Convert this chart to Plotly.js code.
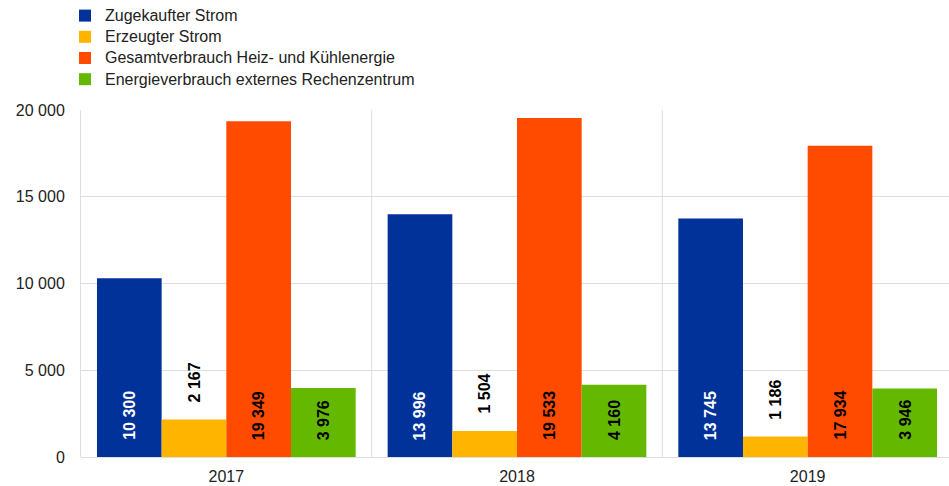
<!DOCTYPE html>
<html>
<head>
<meta charset="utf-8">
<script src="https://cdn.plot.ly/plotly-3.0.1.min.js"></script>
<style>
html,body{margin:0;padding:0;overflow:hidden;background:#fff;}
#chart{width:955px;height:486px;}
</style>
</head>
<body>
<div id="chart"></div>
<script>
const years = ['2017', '2018', '2019'];
const seriesNames = ['Zugekaufter Strom', 'Erzeugter Strom', 'Gesamtverbrauch Heiz- und Kühlenergie', 'Energieverbrauch externes Rechenzentrum'];
const zugekaufterStrom = [10300, 13996, 13745];
const erzeugterStrom = [2167, 1504, 1186];
const heizKuehlenergie = [19349, 19533, 17934];
const externesRechenzentrum = [3976, 4160, 3946];
const yTicks = [0, 5000, 10000, 15000, 20000];

const seriesValues = [zugekaufterStrom, erzeugterStrom, heizKuehlenergie, externesRechenzentrum];
const colors = ['#003299', '#ffb400', '#ff4b00', '#65b800'];
const labelColors = ['#ffffff', '#000000', '#000000', '#000000'];
const labelOutside = [false, true, false, false];
const fontFam = 'Liberation Sans, Arial, sans-serif';
const bargap = 0.11;

function fmt(v) {
  return String(v).replace(/\B(?=(\d{3})+(?!\d))/g, ' ');
}

const traces = seriesValues.map((vals, i) => ({
  type: 'bar',
  name: '<span style="font-size:16px">' + seriesNames[i] + '</span>',
  x: years,
  y: vals,
  marker: {color: colors[i], line: {width: 0}},
  hoverinfo: 'skip'
}));

const barW = (1 - bargap) / seriesValues.length;
const annotations = [];
seriesValues.forEach((vals, i) => {
  vals.forEach((v, j) => {
    annotations.push({
      xref: 'x', yref: 'y',
      x: j + (i - (seriesValues.length - 1) / 2) * barW,
      y: labelOutside[i] ? v : 0,
      yanchor: 'bottom', xanchor: 'center',
      yshift: 15,
      text: '<b>' + fmt(v) + '</b>',
      textangle: -90,
      showarrow: false,
      font: {family: fontFam, size: 16, color: labelColors[i]}
    });
  });
});

const shapes = [0.5, 1.5].map(xv => ({
  type: 'line', xref: 'x', yref: 'paper',
  x0: xv, x1: xv, y0: 0, y1: 1,
  line: {color: '#dedede', width: 1}
}));

const layout = {
  width: 955, height: 486,
  margin: {l: 81, r: 2, t: 110, b: 29, autoexpand: false},
  paper_bgcolor: '#ffffff', plot_bgcolor: '#ffffff',
  separators: '. ',
  barmode: 'group',
  bargap: bargap,
  bargroupgap: 0,
  font: {family: fontFam, size: 16, color: '#222'},
  showlegend: true,
  legend: {
    orientation: 'v',
    xref: 'container', yref: 'container',
    x: 65 / 955, y: 1, xanchor: 'left', yanchor: 'top',
    font: {family: fontFam, size: 14, color: '#222'},
    bgcolor: 'rgba(0,0,0,0)',
    traceorder: 'normal'
  },
  xaxis: {
    type: 'category',
    range: [-0.5, 2.5],
    showgrid: false,
    showline: false,
    ticks: '',
    ticklabelstandoff: 8,
    tickfont: {family: fontFam, size: 16, color: '#222'},
    fixedrange: true
  },
  yaxis: {
    range: [0, 20000],
    tickvals: yTicks,
    tickformat: ',',
    showgrid: true,
    gridcolor: '#dedede',
    gridwidth: 1,
    zeroline: true,
    zerolinecolor: '#dedede',
    zerolinewidth: 1,
    showline: true,
    linecolor: '#dedede',
    linewidth: 1,
    ticks: '',
    ticklabelstandoff: 12,
    tickfont: {family: fontFam, size: 16, color: '#222'},
    fixedrange: true
  },
  shapes: shapes,
  annotations: annotations
};

Plotly.newPlot('chart', traces, layout, {displayModeBar: false, staticPlot: true});
</script>
</body>
</html>
